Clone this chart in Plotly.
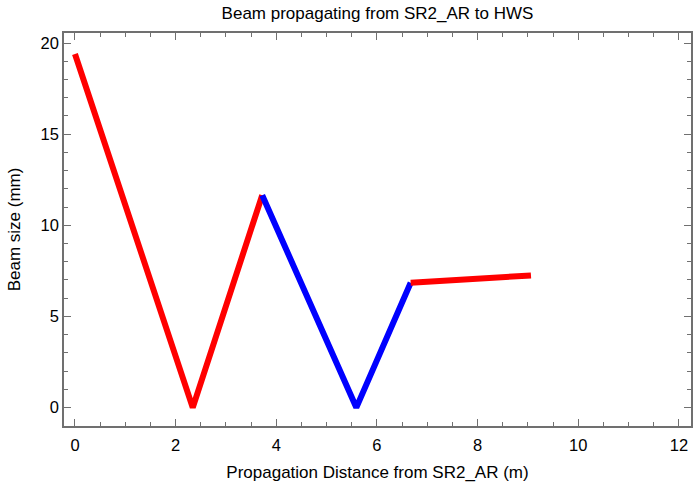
import plotly.graph_objects as go

# Beam size along the path, split into segments by colour
red1_x = [0.0, 2.34, 3.72]
red1_y = [19.4, 0.0, 11.65]
blue_x = [3.72, 5.59, 6.67]
blue_y = [11.65, 0.0, 6.85]
red2_x = [6.67, 9.06]
red2_y = [6.85, 7.25]

x_ticks = [0, 2, 4, 6, 8, 10, 12]
y_ticks = [0, 5, 10, 15, 20]

FONT = "Liberation Sans, Arial, sans-serif"
FRAME = "#707070"

fig = go.Figure()
for xs, ys, col in [(red1_x, red1_y, "#ff0000"),
                    (blue_x, blue_y, "#0000ff"),
                    (red2_x, red2_y, "#ff0000")]:
    fig.add_trace(go.Scatter(x=xs, y=ys, mode="lines",
                             line=dict(color=col, width=6),
                             showlegend=False, hoverinfo="skip"))

axis_common = dict(
    showline=True, linecolor=FRAME, linewidth=1.5, mirror="ticks",
    ticks="inside", tickcolor=FRAME, tickwidth=1.2, ticklen=7,
    showgrid=False, zeroline=False,
    tickfont=dict(family=FONT, size=16.5, color="#000"),
)

fig.update_layout(
    width=697, height=490,
    margin=dict(l=64, r=4, t=33, b=64),
    paper_bgcolor="white", plot_bgcolor="white",
    title=dict(text="Beam propagating from SR2_AR to HWS",
               x=0.5, xref="paper", y=1 - 13 / 490, yanchor="middle",
               font=dict(family=FONT, size=17, color="#000")),
    xaxis=dict(range=[-0.218, 12.24], tickvals=x_ticks,
               minor=dict(dtick=0.5, ticks="inside", ticklen=4,
                          tickcolor=FRAME, tickwidth=1.2),
               ticklabelstandoff=3,
               title=dict(text="Propagation Distance from SR2_AR (m)",
                          font=dict(family=FONT, size=17, color="#000"),
                          standoff=14),
               **axis_common),
    yaxis=dict(range=[-1.01, 20.55], tickvals=y_ticks,
               minor=dict(dtick=1, ticks="inside", ticklen=4,
                          tickcolor=FRAME, tickwidth=1.2),
               title=dict(text="Beam size (mm)",
                          font=dict(family=FONT, size=17, color="#000"),
                          standoff=16),
               **axis_common),
)

fig.write_html("out.html")
